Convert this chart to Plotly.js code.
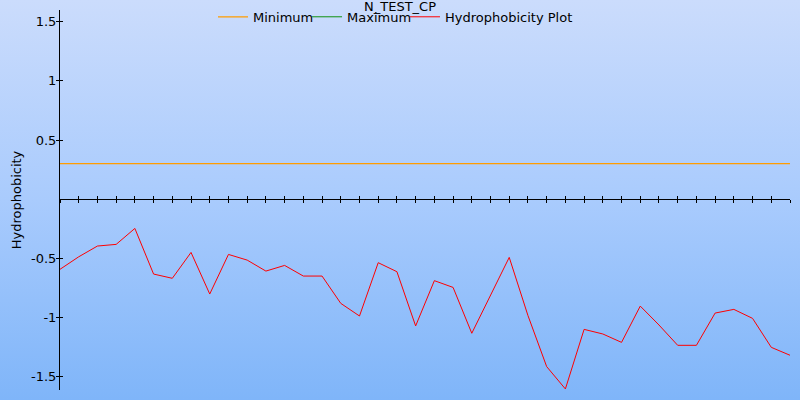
<!DOCTYPE html>
<html>
<head>
<meta charset="utf-8">
<script src="https://cdn.plot.ly/plotly-3.0.1.min.js"></script>
<style>
html,body{margin:0;padding:0;}
#chart{width:800px;height:400px;background:linear-gradient(to bottom,#cbdcfc 0%,#a9cbfd 50%,#7fb5f9 100%);}
</style>
</head>
<body>
<div id="chart"></div>
<script>
const positions = [0,1,2,3,4,5,6,7,8,9,10,11,12,13,14,15,16,17,18,19,20,21,22,23,24,25,26,27,28,29,30,31,32,33,34,35,36,37,38,39];
const hydrophobicity = [-0.594,-0.488,-0.397,-0.383,-0.248,-0.634,-0.670,-0.451,-0.803,-0.468,
  -0.516,-0.609,-0.561,-0.651,-0.651,-0.882,-0.989,-0.538,-0.614,-1.073,
  -0.690,-0.747,-1.135,-0.811,-0.493,-0.985,-1.417,-1.606,-1.102,-1.141,
  -1.212,-0.905,-1.065,-1.237,-1.237,-0.964,-0.933,-1.009,-1.254,-1.321];
const minimum = [0.30,0.30,0.30,0.30,0.30,0.30,0.30,0.30,0.30,0.30,0.30,0.30,0.30,0.30,0.30,0.30,0.30,0.30,0.30,0.30,
  0.30,0.30,0.30,0.30,0.30,0.30,0.30,0.30,0.30,0.30,0.30,0.30,0.30,0.30,0.30,0.30,0.30,0.30,0.30,0.30];
const maximum = [1.8,1.8,1.8,1.8,1.8,1.8,1.8,1.8,1.8,1.8,1.8,1.8,1.8,1.8,1.8,1.8,1.8,1.8,1.8,1.8,
  1.8,1.8,1.8,1.8,1.8,1.8,1.8,1.8,1.8,1.8,1.8,1.8,1.8,1.8,1.8,1.8,1.8,1.8,1.8,1.8];
const yTickVals = [1.5,1,0.5,-0.5,-1,-1.5];
const yTickText = ['1.5','1','0.5','-0.5','-1','-1.5'];
const chartTitle = 'N_TEST_CP';
const yTitle = 'Hydrophobicity';

const fam = 'DejaVu Sans, Verdana, sans-serif';
const font = {family:fam, size:13, color:'#000'};

const traces = [
  {x:positions, y:minimum, name:'Minimum', mode:'lines', line:{color:'#ff9c00', width:1.3}, xaxis:'x2', yaxis:'y2', hoverinfo:'skip', legend:'legend'},
  {x:positions, y:maximum, name:'Maximum', mode:'lines', line:{color:'#109010', width:1}, legend:'legend2'},
  {x:positions, y:hydrophobicity, name:'Hydrophobicity Plot', mode:'lines', line:{color:'#ff0000', width:1}, legend:'legend3'}
];

const yRange = [-1.615, 1.6];
const zeroPos = (0 - yRange[0]) / (yRange[1] - yRange[0]);

function legendAt(x) {
  return {orientation:'h', x:x, xanchor:'left', y:0.982, yanchor:'middle', bgcolor:'rgba(0,0,0,0)',
          font:{family:fam, size:13, color:'#000'}, itemwidth:30};
}

const layout = {
  width:800, height:400,
  margin:{l:60, r:10, t:10, b:10, pad:0, autoexpand:false},
  paper_bgcolor:'rgba(0,0,0,0)',
  plot_bgcolor:'rgba(0,0,0,0)',
  font:font,
  showlegend:true,
  title:{text:chartTitle, font:{family:fam, size:13, color:'#000'}, x:0.5, xref:'container', xanchor:'center', yref:'container', y:0.985, yanchor:'middle', automargin:false},
  legend:legendAt(0.2096),
  legend2:legendAt(0.3384),
  legend3:legendAt(0.4726),
  xaxis:{range:[0,39], showgrid:false, zeroline:false, showline:true, linecolor:'#000', linewidth:1,
         anchor:'free', position:zeroPos, ticks:'outside', ticklen:3, tickwidth:1, tickcolor:'#000', dtick:1, tick0:0, showticklabels:false},
  xaxis2:{matches:'x', overlaying:'x', anchor:'free', position:zeroPos, showgrid:false, zeroline:false, showline:false,
         ticks:'inside', ticklen:3, tickwidth:1, tickcolor:'#000', dtick:1, tick0:0, showticklabels:false},
  yaxis:{range:yRange, showgrid:false, zeroline:false, showline:true, linecolor:'#000', linewidth:1,
         ticks:'outside', ticklen:3, tickwidth:1, tickcolor:'#000', tickvals:yTickVals, ticktext:yTickText,
         ticklabelstandoff:-3,
         tickfont:{family:fam, size:13, color:'#000'}, automargin:false,
         title:{text:yTitle, font:{family:fam, size:13, color:'#000'}, standoff:6}},
  yaxis2:{matches:'y', overlaying:'y', showgrid:false, zeroline:false, showline:false,
         ticks:'inside', ticklen:3, tickwidth:1, tickcolor:'#000', tickvals:yTickVals, showticklabels:false}
};

Plotly.newPlot('chart', traces, layout, {displayModeBar:false, staticPlot:true});
</script>
</body>
</html>
